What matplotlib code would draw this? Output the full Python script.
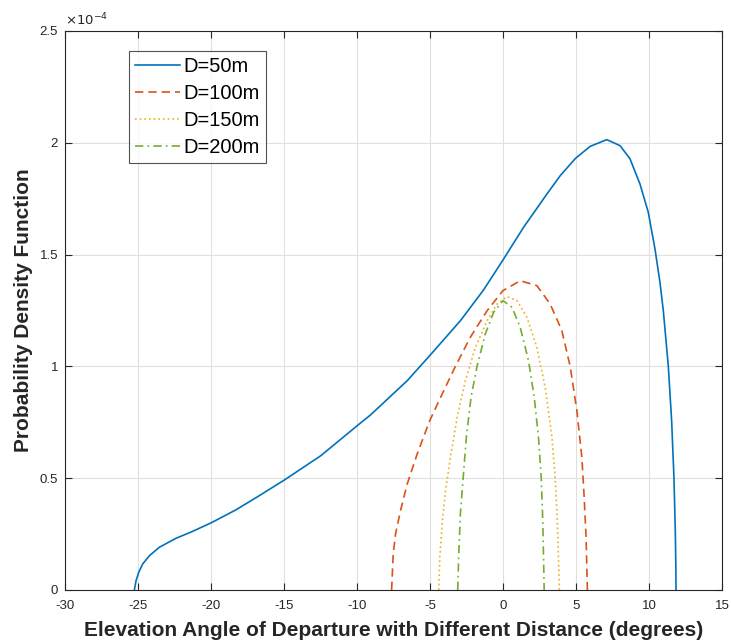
import matplotlib
matplotlib.use("Agg")
import matplotlib.pyplot as plt

plt.rcParams['font.family'] = ['Liberation Sans', 'DejaVu Sans']
plt.rcParams['axes.unicode_minus'] = False

# PDF values are in units of 1e-4
x50 = [-25.25, -25.13, -24.95, -24.68, -24.22, -23.54, -22.40, -21.26, -19.94, -18.30,
       -16.81, -14.97, -12.49, -9.98, -9.07, -6.56, -5.02, -2.92, -1.33, 0.0, 1.41, 3.01,
       3.92, 4.96, 5.97, 7.11, 8.02, 8.70, 9.38, 9.95, 10.41, 10.75, 10.98, 11.32, 11.55,
       11.71, 11.80, 11.84, 11.85]
y50 = [0.0, 0.042, 0.079, 0.116, 0.153, 0.191, 0.231, 0.262, 0.302, 0.358,
       0.417, 0.492, 0.600, 0.735, 0.783, 0.936, 1.048, 1.204, 1.342, 1.476, 1.622, 1.771,
       1.853, 1.930, 1.984, 2.014, 1.987, 1.928, 1.816, 1.689, 1.525, 1.376, 1.249, 1.002, 0.757,
       0.501, 0.265, 0.10, 0.0]

x100 = [-7.63, -7.52, -7.36, -7.02, -6.56, -5.88, -5.02, -4.06, -3.26, -2.24, -1.09, 0.0,
        1.18, 2.32, 3.23, 4.03, 4.60, 5.06, 5.40, 5.56, 5.69, 5.78]
y100 = [0.0, 0.161, 0.250, 0.355, 0.474, 0.608, 0.757, 0.891, 1.0, 1.130, 1.249, 1.339,
        1.383, 1.361, 1.279, 1.160, 1.0, 0.802, 0.593, 0.414, 0.235, 0.0]

x150 = [-4.40, -4.33, -4.17, -3.94, -3.60, -3.14, -2.58, -1.89, -1.09, -0.41, 0.27, 0.96,
        1.64, 2.32, 2.89, 3.35, 3.57, 3.73, 3.86]
y150 = [0.0, 0.146, 0.295, 0.444, 0.593, 0.772, 0.935, 1.085, 1.204, 1.279, 1.312, 1.294,
        1.219, 1.085, 0.906, 0.683, 0.504, 0.295, 0.0]

x200 = [-3.10, -3.03, -2.92, -2.73, -2.51, -2.19, -1.78, -1.21, -0.64, 0.0, 0.62, 1.18,
        1.75, 2.14, 2.43, 2.62, 2.73, 2.82]
y200 = [0.0, 0.161, 0.340, 0.5, 0.683, 0.861, 1.0, 1.145, 1.242, 1.294, 1.264, 1.174,
        1.025, 0.861, 0.683, 0.5, 0.295, 0.0]

labels = ["D=50m", "D=100m", "D=150m", "D=200m"]
colors = ["#0072BD", "#D95319", "#EDB120", "#77AC30"]

fig = plt.figure(figsize=(7.31, 6.44), dpi=100)
ax = fig.add_axes([0.0889, 0.0839, 0.8988, 0.868])

ax.plot(x50, y50, color=colors[0], lw=1.2, label=labels[0])
ax.plot(x100, y100, color=colors[1], lw=1.2, dashes=(5, 3), label=labels[1])
ax.plot(x150, y150, color=colors[2], lw=1.2, dashes=(1, 1.8), label=labels[2])
ax.plot(x200, y200, color=colors[3], lw=1.2, dashes=(5, 2.5, 1, 2.5), label=labels[3])

ax.set_xlim(-30, 15)
ax.set_ylim(0, 2.5)
ax.set_xticks(range(-30, 16, 5))
ax.set_yticks([0, 0.5, 1, 1.5, 2, 2.5])
ax.set_yticklabels(["0", "0.5", "1", "1.5", "2", "2.5"])
ax.grid(True, color="#e0e0e0", lw=0.8)
ax.set_axisbelow(True)
ax.tick_params(direction="in", top=True, right=True, labelsize=9.5, colors="#262626",
               length=5, width=0.8)
ax.tick_params(axis="x", pad=7)
ax.tick_params(axis="y", pad=5)
for s in ax.spines.values():
    s.set_color("#262626")
    s.set_linewidth(0.8)

ax.text(0.0, 1.005, r"$\times10^{-4}$", transform=ax.transAxes, fontsize=9.5,
        color="#262626", ha="left", va="bottom")

ax.set_xlabel("Elevation Angle of Departure with Different Distance (degrees)",
              fontsize=15, fontweight="bold", color="#262626", labelpad=7)
ax.set_ylabel("Probability Density Function", fontsize=15, fontweight="bold",
              color="#262626", labelpad=5)

leg = ax.legend(loc="upper left", bbox_to_anchor=(0.098, 0.964), fontsize=14.5,
                frameon=True, fancybox=False, edgecolor="#262626", handlelength=2.2,
                borderpad=0.3, labelspacing=0.4, handletextpad=0.2, borderaxespad=0)
leg.get_frame().set_linewidth(0.8)

fig.savefig("out.png", dpi=100)
